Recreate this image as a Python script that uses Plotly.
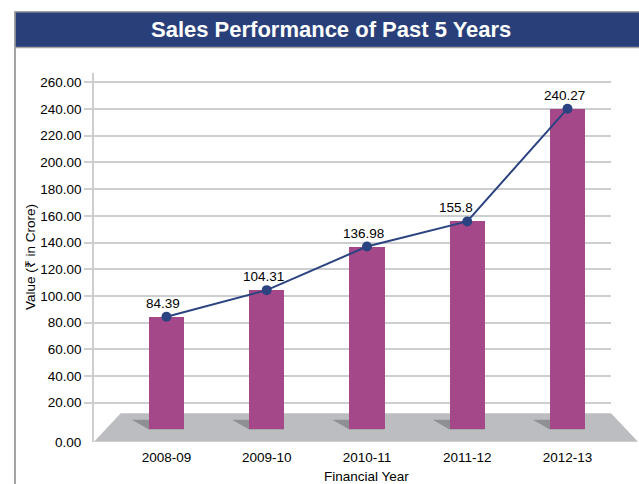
import plotly.graph_objects as go

# Sales figures (Rs. in crore) by financial year
years = ["2008-09", "2009-10", "2010-11", "2011-12", "2012-13"]
sales = [84.39, 104.31, 136.98, 155.8, 240.27]
y_ticks = [20, 40, 60, 80, 100, 120, 140, 160, 180, 200, 220, 240, 260]

W, H = 639, 484
ML, MR, MT, MB = 94, 28, 73, 42
PW, PH = W - ML - MR, H - MT - MB

BAR_COLOR = "#a4488a"
LINE_COLOR = "#2b4380"
BANNER = "#293f7a"
FLOOR = "#bcbdc0"
SHADOW = "#8f9094"
GRID = "#cdced0"
BORDER = "#a3a3a3"
FONT = "Liberation Sans, Arial, sans-serif"
TXT = "#000000"

X_RANGE = [-0.723, 4.434]
Y_RANGE = [-9.44, 267.0]


def px(x):
    """pixel x -> paper x"""
    return (x - ML) / PW


def py(y):
    """pixel y (from top) -> paper y"""
    return (H - MB - y) / PH


x_idx = list(range(len(years)))

fig = go.Figure()
fig.add_trace(go.Bar(
    x=x_idx, y=sales, width=0.35,
    marker=dict(color=BAR_COLOR, line=dict(width=0)),
    hoverinfo="skip", showlegend=False,
))
fig.add_trace(go.Scatter(
    x=x_idx, y=sales, mode="lines+markers",
    line=dict(color=LINE_COLOR, width=2),
    marker=dict(color=LINE_COLOR, size=10),
    cliponaxis=False, showlegend=False,
))

shapes = []
# outer frame and title banner
shapes.append(dict(type="line", xref="paper", yref="paper",
                   x0=px(15), x1=px(15), y0=py(11.5), y1=py(H + 2),
                   line=dict(color=BORDER, width=2), layer="below"))
shapes.append(dict(type="rect", xref="paper", yref="paper",
                   x0=px(15), x1=px(W + 2), y0=py(47.5), y1=py(11.8),
                   fillcolor=BANNER, line=dict(color=BORDER, width=1.5)))

# perspective floor under the bars
floor_path = (f"M {px(120.7)},{py(413.3)} L {px(611)},{py(413.3)} "
              f"L {px(638)},{py(441.7)} L {px(94)},{py(441.7)} Z")
shapes.append(dict(type="path", xref="paper", yref="paper", path=floor_path,
                   fillcolor=FLOOR, line=dict(width=0), layer="below"))

# slanted shadow at the foot of each bar
for i in x_idx:
    l, r = i - 0.175, i + 0.175
    shapes.append(dict(
        type="path", xref="x", yref="y",
        path=f"M {l - 0.17},7.27 L {r - 0.17},7.27 L {r},0 L {l},0 Z",
        fillcolor=SHADOW, line=dict(width=0), layer="below"))

annotations = [
    dict(text="<b>Sales Performance of Past 5 Years</b>", xref="paper", yref="paper",
         x=px(331), y=py(29.5), xanchor="center", yanchor="middle", showarrow=False,
         font=dict(family=FONT, size=22, color="white")),
    dict(text="0.00", xref="paper", yref="paper", x=px(83), y=py(442.5),
         xanchor="right", yanchor="middle", showarrow=False,
         font=dict(family=FONT, size=13.5, color=TXT)),
    dict(text="Financial Year", xref="paper", yref="paper", x=px(366), y=py(476),
         xanchor="center", yanchor="middle", showarrow=False,
         font=dict(family=FONT, size=13.5, color=TXT)),
    dict(text="Value (₹ in Crore)", xref="paper", yref="paper", x=px(30), y=py(257),
         xanchor="center", yanchor="middle", textangle=-90, showarrow=False,
         font=dict(family=FONT, size=13.5, color=TXT)),
]

# value labels above the line markers (the 2011-12 label is nudged off the line)
label_nudge = {3: -11}
for i, v in zip(x_idx, sales):
    annotations.append(dict(
        text=f"{v:g}", x=i, y=v, xref="x", yref="y",
        xanchor="center", yanchor="bottom", yshift=4,
        xshift=label_nudge.get(i, -3), showarrow=False,
        font=dict(family=FONT, size=13.5, color=TXT)))

fig.update_layout(
    width=W, height=H,
    margin=dict(l=ML, r=MR, t=MT, b=MB, pad=0),
    paper_bgcolor="white", plot_bgcolor="rgba(0,0,0,0)",
    font=dict(family=FONT, size=13.5, color=TXT),
    shapes=shapes, annotations=annotations,
    bargap=0, showlegend=False,
    xaxis=dict(range=X_RANGE, tickvals=x_idx, ticktext=years,
               showgrid=False, zeroline=False, showline=False, ticks="",
               ticklabelstandoff=5, fixedrange=True,
               tickfont=dict(family=FONT, size=13.5, color=TXT)),
    yaxis=dict(range=Y_RANGE, tickvals=y_ticks,
               ticktext=[f"{v:.2f}" for v in y_ticks],
               showgrid=True, gridcolor=GRID, gridwidth=1.5,
               zeroline=False, showline=True, linecolor=GRID, linewidth=1.5,
               ticks="outside", ticklen=8, tickcolor=GRID, tickwidth=1.5,
               fixedrange=True,
               tickfont=dict(family=FONT, size=13.5, color=TXT)),
)

fig.write_html("out.html")
